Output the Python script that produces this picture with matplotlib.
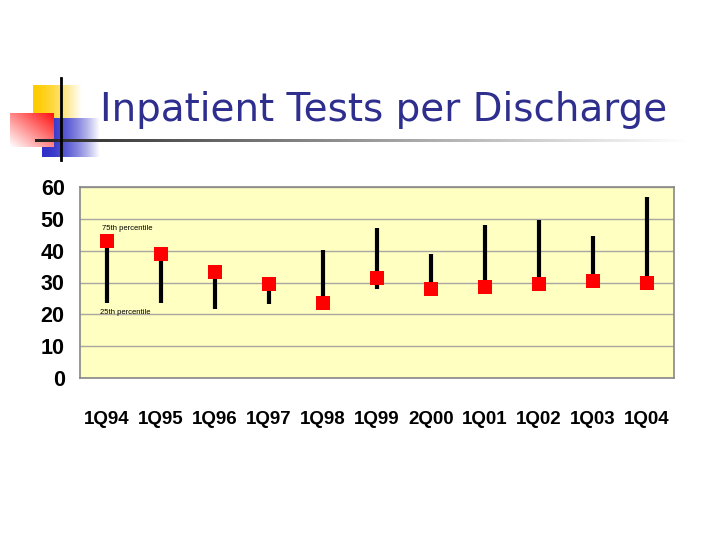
import numpy as np
import matplotlib
matplotlib.use("Agg")
import matplotlib.pyplot as plt

quarters = ["1Q94", "1Q95", "1Q96", "1Q97", "1Q98", "1Q99",
            "2Q00", "1Q01", "1Q02", "1Q03", "1Q04"]
low = [23.6, 23.6, 21.6, 23.1, 23.6, 27.9, 28.0, 28.5, 29.4, 30.4, 30.0]
high = [43.0, 38.8, 33.3, 29.4, 40.2, 47.1, 38.8, 48.1, 49.6, 44.7, 56.9]
mid = [43.0, 38.8, 33.3, 29.4, 23.6, 31.4, 28.0, 28.5, 29.4, 30.4, 30.0]
yticks = [0, 10, 20, 30, 40, 50, 60]

tick_family = ["Liberation Sans", "DejaVu Sans"]

fig = plt.figure(figsize=(7.2, 5.4), dpi=100)
fig.patch.set_facecolor("white")

# slide decoration, in pixel coordinates
deco = fig.add_axes([0, 0, 1, 1], zorder=0)
deco.axis("off")


def blend(c0, c1, tt):
    c0 = np.array(matplotlib.colors.to_rgb(c0))
    c1 = np.array(matplotlib.colors.to_rgb(c1))
    return c0[None, None, :] * (1 - tt[..., None]) + c1[None, None, :] * tt[..., None]


t = np.linspace(0, 1, 64)
horiz = np.tile(t, (64, 1))
deco.imshow(blend("#FFCC00", "#FFFFFF", horiz ** 1.5), extent=(33, 82, 119, 85),
            aspect="auto", interpolation="bilinear")
deco.imshow(blend("#3030C8", "#FFFFFF", horiz ** 1.8), extent=(42, 100, 157, 118),
            aspect="auto", interpolation="bilinear")
diag = ((1 - t)[None, :] + t[:, None]) / 2
deco.imshow(blend("#FF1010", "#FFFFFF", diag), extent=(10, 54, 147, 113),
            aspect="auto", interpolation="bilinear")
deco.plot([61, 61], [78, 160], color="black", lw=2)
# horizontal fading rule
tr = np.linspace(0, 1, 256)[None, :]
deco.imshow(blend("#202020", "#FFFFFF", tr ** 0.9),
            extent=(35, 690, 142.5, 139.5), aspect="auto", interpolation="bilinear")
deco.set_xlim(0, 720)
deco.set_ylim(540, 0)

fig.text(100 / 720, 1 - 110 / 540, "Inpatient Tests per Discharge",
         fontsize=28, color="#2E2E8E", family="DejaVu Sans",
         ha="left", va="center")

ax = fig.add_axes([80 / 720, 1 - 378 / 540, 594 / 720, 191 / 540], zorder=1)
ax.set_facecolor("#FFFFC2")
x = np.arange(len(quarters))
ax.vlines(x, low, high, color="black", lw=3, zorder=3)
ax.plot(x, mid, "s", color="#FF0000", markersize=9.5, zorder=4, markeredgewidth=0)

ax.set_xlim(-0.5, len(quarters) - 0.5)
ax.set_ylim(0, 60)
ax.set_yticks(yticks)
ax.set_yticklabels([str(v) for v in yticks])
ax.set_xticks(x)
ax.set_xticklabels(quarters)
ax.yaxis.grid(True, color="#A8A8A0", lw=1)
ax.set_axisbelow(True)
ax.tick_params(axis="both", length=0)
ax.tick_params(axis="y", pad=11)
ax.tick_params(axis="x", pad=24)
for lab in ax.get_yticklabels():
    lab.set_family(tick_family)
    lab.set_fontweight("bold")
    lab.set_fontsize(15.5)
for lab in ax.get_xticklabels():
    lab.set_family(tick_family)
    lab.set_fontweight("bold")
    lab.set_fontsize(13.5)
for s in ax.spines.values():
    s.set_color("#888888")
    s.set_linewidth(1.2)

ax.text(-0.1, 47.0, "75th percentile", fontsize=5.5, family=tick_family,
        ha="left", va="center")
ax.text(-0.13, 20.6, "25th percentile", fontsize=5.5, family=tick_family,
        ha="left", va="center")

fig.savefig("out.png", dpi=100)
